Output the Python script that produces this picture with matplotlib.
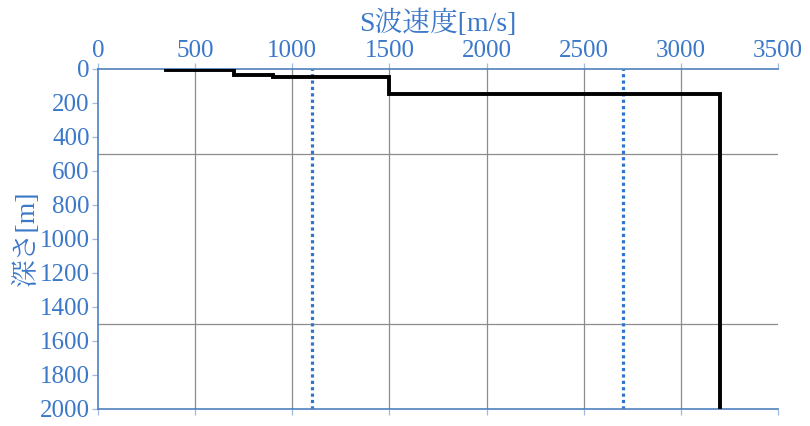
import matplotlib
matplotlib.use("Agg")
import matplotlib.pyplot as plt
from matplotlib.ticker import MultipleLocator

# S-wave velocity profile (step): layer velocities and boundary depths
vs_layers = [350, 700, 900, 1500, 3200]
depth_tops = [0, 10, 40, 50, 150]
depth_bottom = 2000
ref_lines = [1100, 2700]

x_label = "S波速度[m/s]"
y_label = "深さ[m]"

BLUE = "#3b78c9"
AXBLUE = "#4f81bd"
FONT = ["Liberation Serif", "Noto Serif CJK JP", "Noto Sans CJK JP"]

# build step path
xs, ys = [], []
for i, v in enumerate(vs_layers):
    top = depth_tops[i]
    bot = depth_tops[i + 1] if i + 1 < len(depth_tops) else depth_bottom
    xs += [v, v]
    ys += [top, bot]

fig = plt.figure(figsize=(8.1, 4.26), dpi=100)
ax = fig.add_axes([0.121, 0.040, 0.8395, 0.799])

ax.plot(xs, ys, color="black", lw=2.8, solid_joinstyle="miter", zorder=3)
for x in ref_lines:
    ax.axvline(x, color="#2f74d0", lw=2.3, ls=(0, (1, 1)), zorder=2)

ax.set_xlim(0, 3500)
ax.set_ylim(2000, 0)
ax.xaxis.set_major_locator(MultipleLocator(500))
ax.yaxis.set_major_locator(MultipleLocator(200))
ax.yaxis.set_minor_locator(MultipleLocator(500))
ax.xaxis.set_label_position("top")

ax.grid(axis="x", which="major", color="#8c8c8c", lw=0.9)
ax.grid(axis="y", which="minor", color="#8c8c8c", lw=0.9)
ax.set_axisbelow(True)

ax.spines["right"].set_visible(False)
for s in ["top", "left", "bottom"]:
    ax.spines[s].set_color(AXBLUE)
    ax.spines[s].set_linewidth(1.2)

ax.tick_params(axis="both", which="major", colors="#9dbbe3", labelcolor=BLUE,
               length=4, width=0.9, labelsize=18, direction="out")
ax.tick_params(axis="x", top=True, bottom=True, labeltop=True, labelbottom=False, pad=1)
ax.tick_params(axis="y", which="minor", length=0)
ax.tick_params(axis="y", pad=2)
for lab in ax.get_xticklabels() + ax.get_yticklabels():
    lab.set_family(FONT)

ax.set_xlabel(x_label, color=BLUE, fontsize=20, family=FONT, labelpad=6)
ax.set_ylabel(y_label, color=BLUE, fontsize=20, family=FONT, labelpad=0)

# no gridline on the edges (0 and 3500)
fig.canvas.draw()
for t in ax.xaxis.get_major_ticks():
    if abs(t.get_loc() - 3500) < 1e-6 or abs(t.get_loc()) < 1e-6:
        t.gridline.set_visible(False)

fig.savefig("out.png", dpi=100)
